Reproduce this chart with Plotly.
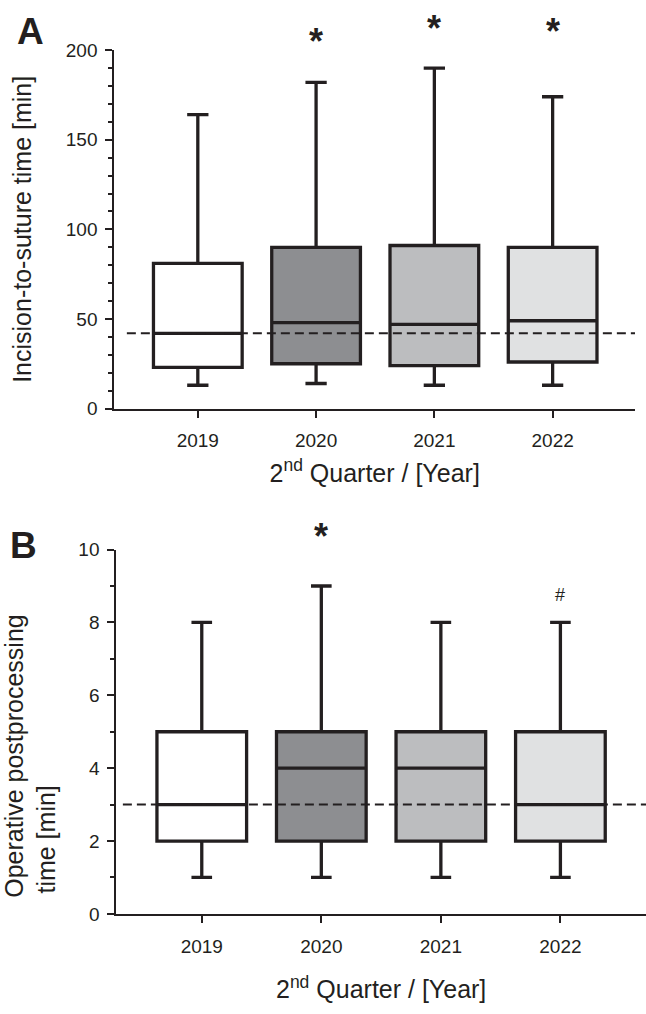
import plotly.graph_objects as go

# ---------------- data ----------------
years = ["2019", "2020", "2021", "2022"]

# Panel A: incision-to-suture time [min]
a_low = [13, 14, 13, 13]
a_q1 = [23, 25, 24, 26]
a_med = [42, 48, 47, 49]
a_q3 = [81, 90, 91, 90]
a_high = [164, 182, 190, 174]
a_ref = 42

# Panel B: operative postprocessing time [min]
b_low = [1, 1, 1, 1]
b_q1 = [2, 2, 2, 2]
b_med = [3, 4, 4, 3]
b_q3 = [5, 5, 5, 5]
b_high = [8, 9, 8, 8]
b_ref = 3

fills = ["#ffffff", "#8d8e91", "#bcbdbf", "#e0e1e2"]

# significance markers: (year index, symbol)
a_marks = [(1, "*"), (2, "*"), (3, "*")]
b_marks = [(1, "*"), (3, "#")]

x_title = "2<sup>nd</sup> Quarter / [Year]"
a_y_title = "Incision-to-suture time [min]"
b_y_title_lines = ["Operative postprocessing", "time [min]"]

# ---------------- figure ----------------
W, H = 646, 1014
INK = "#231f20"
FONT = "Liberation Sans, Arial, sans-serif"
NBSP = "\u00a0"

fig = go.Figure()

for i, yr in enumerate(years):
    fig.add_trace(go.Box(
        x=[yr], q1=[a_q1[i]], median=[a_med[i]], q3=[a_q3[i]],
        lowerfence=[a_low[i]], upperfence=[a_high[i]],
        width=0.75, whiskerwidth=0.24, fillcolor=fills[i],
        line=dict(color=INK, width=3.3), boxpoints=False,
        showlegend=False, xaxis="x", yaxis="y", name=yr,
    ))
    fig.add_trace(go.Box(
        x=[yr], q1=[b_q1[i]], median=[b_med[i]], q3=[b_q3[i]],
        lowerfence=[b_low[i]], upperfence=[b_high[i]],
        width=0.75, whiskerwidth=0.23, fillcolor=fills[i],
        line=dict(color=INK, width=3.3), boxpoints=False,
        showlegend=False, xaxis="x2", yaxis="y2", name=yr,
    ))


def px_x(p):
    return p / W


def px_y(p):
    return 1 - p / H


title_font = dict(size=25, color=INK, family=FONT)

common_x = dict(
    type="category", categoryorder="array", categoryarray=years,
    showline=True, linecolor=INK, linewidth=2,
    ticks="outside", ticklen=7, tickwidth=2, tickcolor=INK,
    tickfont=dict(size=19, color=INK, family=FONT),
    showgrid=False, zeroline=False, ticklabelstandoff=7,
)
common_y = dict(
    showline=True, linecolor=INK, linewidth=2,
    ticks="outside", ticklen=7, tickwidth=2, tickcolor=INK,
    tickfont=dict(size=19, color=INK, family=FONT),
    showgrid=False, zeroline=False, ticklabelstandoff=4,
)

# two-line, left-aligned (rotated) title for panel B built with padding
b_y_title = (b_y_title_lines[0] + NBSP * 7 + "<br>" +
             b_y_title_lines[1] + NBSP * 31 + "\u200b")

fig.update_layout(
    width=W, height=H,
    margin=dict(l=0, r=0, t=0, b=0),
    paper_bgcolor="white", plot_bgcolor="white",
    font=dict(family=FONT, color=INK),
    boxmode="overlay",
    xaxis=dict(domain=[px_x(111), px_x(635)], anchor="y",
               range=[-0.706, 3.697],
               title=dict(text=x_title, font=title_font, standoff=14),
               **common_x),
    yaxis=dict(domain=[px_y(407), px_y(41)], anchor="x",
               range=[0, 200], tickvals=[0, 50, 100, 150, 200],
               minor=dict(dtick=10, ticklen=4, tickwidth=1.5,
                          ticks="outside", tickcolor=INK, showgrid=False),
               title=dict(text=a_y_title, font=title_font, standoff=27),
               **common_y),
    xaxis2=dict(domain=[px_x(113), 1.0], anchor="y2",
                range=[-0.715, 3.716],
                title=dict(text=x_title, font=title_font, standoff=25),
                **common_x),
    yaxis2=dict(domain=[px_y(923), px_y(551)], anchor="x2",
                range=[0, 10], tickvals=[0, 2, 4, 6, 8, 10],
                minor=dict(dtick=1, ticklen=4, tickwidth=1.5,
                           ticks="outside", tickcolor=INK, showgrid=False),
                title=dict(text=b_y_title, font=title_font, standoff=28),
                **common_y),
)

# reference (dashed) lines
fig.add_shape(type="line", xref="x", yref="y", x0=-0.6, x1=3.697,
              y0=a_ref, y1=a_ref, line=dict(color=INK, width=2, dash="9px,5px"))
fig.add_shape(type="line", xref="x2", yref="y2", x0=-0.66, x1=3.716,
              y0=b_ref, y1=b_ref, line=dict(color=INK, width=2, dash="9px,5px"))

ann = []
# significance markers (vertical position in page pixels)
a_mark_px = {1: 32, 2: 19, 3: 22}
for idx, s in a_marks:
    ann.append(dict(xref="x", yref="paper", x=idx, y=px_y(a_mark_px[idx]),
                    text=s, showarrow=False,
                    font=dict(size=36, color=INK, family=FONT, weight="bold"),
                    xanchor="center", yanchor="middle"))
b_mark_px = {1: 538, 3: 597}
b_mark_size = {"*": 36, "#": 18}
b_mark_weight = {"*": "bold", "#": "normal"}
for idx, s in b_marks:
    ann.append(dict(xref="x2", yref="paper", x=idx, y=px_y(b_mark_px[idx]),
                    text=s, showarrow=False,
                    font=dict(size=b_mark_size[s], color=INK, family=FONT,
                              weight=b_mark_weight[s]),
                    xanchor="center", yanchor="middle"))

# panel letters
ann.append(dict(xref="paper", yref="paper", x=px_x(26.5), y=px_y(22),
                text="A", showarrow=False,
                font=dict(size=37, color=INK, family=FONT, weight="bold"),
                xanchor="center", yanchor="middle"))
ann.append(dict(xref="paper", yref="paper", x=px_x(20), y=px_y(546.5),
                text="B", showarrow=False,
                font=dict(size=37, color=INK, family=FONT, weight="bold"),
                xanchor="center", yanchor="middle"))

fig.update_layout(annotations=ann)

fig.write_html("out.html",
               config={"displayModeBar": False},
               post_script="document.body.style.margin='0px';"
                           "document.body.style.overflow='hidden';")
